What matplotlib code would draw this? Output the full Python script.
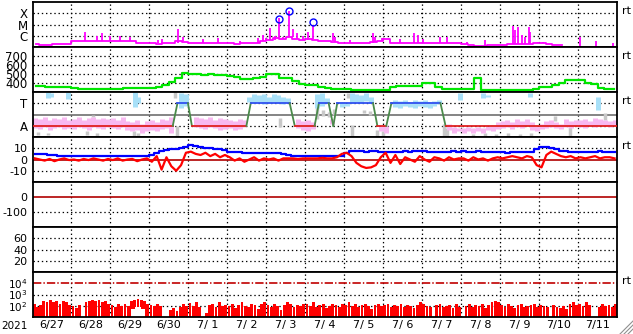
import numpy as np
import matplotlib
matplotlib.use("Agg")
import matplotlib.pyplot as plt

plt.rcParams['font.family'] = 'DejaVu Sans'
plt.rcParams['lines.scale_dashes'] = False

# x axis: days since 2021-06-27 00:00 UT
day_labels = ["6/27", "6/28", "6/29", "6/30", "7/ 1", "7/ 2", "7/ 3", "7/ 4",
              "7/ 5", "7/ 6", "7/ 7", "7/ 8", "7/ 9", "7/10", "7/11"]

# panel 1: x-ray flux (log10 W/m2), 4-hour baseline + flare spikes
xray_base = [
    -6.75, -6.78, -6.80, -6.75, -6.72, -6.70,
    -6.50, -6.45, -6.50, -6.45, -6.50, -6.45,
    -6.45, -6.50, -6.45, -6.50, -6.60, -6.65,
    -6.65, -6.70, -6.68, -6.60, -6.50, -6.55,
    -6.62, -6.65, -6.60, -6.65, -6.62, -6.65,
    -6.65, -6.70, -6.68, -6.65, -6.60, -6.45,
    -6.40, -6.20, -6.30, -6.10, -6.25, -6.35,
    -6.30, -6.35, -6.45, -6.45, -6.55, -6.60,
    -6.60, -6.62, -6.65, -6.60, -6.58, -6.50,
    -6.30, -6.62, -6.65, -6.62, -6.65, -6.60,
    -6.60, -6.62, -6.60, -6.65, -6.62, -6.65,
    -6.75, -6.78, -6.92, -6.95, -6.85, -6.82,
    -6.82, -6.75, -6.70, -6.72, -6.70, -6.65,
    -6.65, -6.72, -6.78, -6.80,
]
spike_day = [1.35, 1.66, 1.79, 1.99, 2.25, 2.50, 3.22, 3.33, 3.74, 3.87,
             4.38, 4.77, 5.33, 5.79, 5.92, 6.00, 6.10, 6.23, 6.32, 6.43,
             6.59, 6.69, 6.79, 6.95, 7.08, 7.21, 7.72, 7.77, 8.16, 8.75,
             8.80, 8.98, 9.44, 9.80, 9.90, 10.03, 10.47, 10.65, 11.16, 11.62,
             12.33, 12.39, 12.47, 12.57, 12.65, 12.73, 12.78, 12.96, 13.11]
spike_log = [-5.69, -5.98, -5.78, -6.02, -5.98, -6.11, -6.38, -6.32, -5.43, -6.11,
             -6.32, -6.23, -6.44, -6.16, -5.93, -6.20, -5.34, -6.02, -4.45, -6.11,
             -3.84, -5.36, -5.78, -6.02, -5.67, -5.04, -5.78, -6.08, -6.38, -5.73,
             -6.08, -6.23, -6.32, -5.78, -5.93, -6.32, -6.14, -6.08, -6.53, -6.38,
             -5.13, -5.49, -5.20, -5.93, -6.08, -5.20, -5.64, -6.53, -6.53]
late_day = [14.06, 14.45, 14.89]
late_log = [-6.08, -6.44, -6.62]
flare_day = [6.32, 6.59, 7.21]
flare_log = [-4.52, -3.78, -4.82]

# panel 2: solar wind speed (km/s), 4-hour values
speed = [
    370, 362, 358, 360, 355, 350,
    340, 335, 330, 335, 332, 335,
    335, 338, 340, 342, 340, 345,
    342, 350, 375, 410, 455, 515,
    500, 495, 490, 495, 490, 485,
    475, 465, 445, 440, 450, 470,
    505, 495, 460, 455, 420, 385,
    378, 375, 350, 340, 335, 330,
    328, 325, 320, 318, 320, 318,
    318, 360, 362, 370, 372, 368,
    397, 395, 352, 335, 330, 330,
    330, 332, 452, 322, 320, 322,
    320, 320, 322, 320, 318, 338,
    350, 352, 380, 395, 430, 433,
    428, 405, 390, 345, 335, 330,
]

# panel 3: sector state (A=1, T=3) and scatter clouds
state_t = [0, 3.60, 3.72, 3.99, 4.09, 5.49, 5.60, 6.60, 6.73, 7.24, 7.35,
           7.60, 7.72, 7.82, 8.74, 8.85, 9.08, 9.21, 10.47, 10.60, 15]
state_v = [1, 1, 3, 3, 1, 1, 3, 3, 1, 1, 3, 3, 1, 3, 3, 1, 1, 3, 3, 1, 1]

pink_lo = [
    0.8, 0.7, 0.9, 0.6, 0.8, 0.9, 0.7, 0.8,
    0.7, 0.9, 0.8, 0.6, 0.9, 0.8, 0.7, 0.9,
    0.8, 0.7, 0.9, 0.6, 0.5, 0.6, 0.4, 0.5,
    0.6, 0.5, 0.7, 0.8, 0.4, np.nan, np.nan, np.nan,
    np.nan, 0.9, 0.8, 0.7, 0.9, 0.8, 0.6, 0.7,
    0.8, 0.6, 0.7, 0.9, np.nan, np.nan, np.nan, np.nan,
    np.nan, np.nan, np.nan, np.nan, np.nan, np.nan, 0.8, 0.6,
    0.5, 0.7, np.nan, np.nan, np.nan, 1.2, np.nan, np.nan,
    np.nan, np.nan, np.nan, np.nan, np.nan, np.nan, np.nan, 0.5,
    0.4, np.nan, np.nan, np.nan, np.nan, np.nan, np.nan, np.nan,
    np.nan, np.nan, np.nan, np.nan, np.nan, 0.6, 0.4, 0.5,
    0.4, 0.5, 0.4, 0.5, 0.4, 0.6, 0.5, 0.7,
    0.8, 0.9, 0.7, 0.9, 0.8, 1.0, 0.6, 0.5,
    0.7, 0.8, 0.9, 0.8, 0.7, 0.9, 0.8, 1.0,
    0.9, 0.8, 1.0, 0.9, 1.1, 1.0, 0.9, 1.1,
]
pink_hi = [
    1.7, 1.6, 1.8, 1.5, 1.7, 1.6, 1.8, 1.5,
    1.6, 1.8, 1.5, 1.7, 1.8, 1.6, 1.7, 1.6,
    1.7, 1.5, 1.8, 1.4, 1.3, 1.5, 1.2, 1.4,
    1.5, 1.3, 1.6, 1.5, 1.8, np.nan, np.nan, np.nan,
    np.nan, 1.8, 1.7, 1.6, 1.8, 1.5, 1.7, 1.6,
    1.5, 1.4, 1.6, 1.5, np.nan, np.nan, np.nan, np.nan,
    np.nan, np.nan, np.nan, np.nan, np.nan, np.nan, 1.6, 1.4,
    1.5, 1.3, np.nan, np.nan, np.nan, 1.6, np.nan, np.nan,
    np.nan, np.nan, np.nan, np.nan, np.nan, np.nan, np.nan, 1.0,
    1.0, np.nan, np.nan, np.nan, np.nan, np.nan, np.nan, np.nan,
    np.nan, np.nan, np.nan, np.nan, np.nan, 1.2, 0.9, 0.8,
    0.8, 0.9, 0.8, 0.9, 0.8, 1.0, 1.1, 1.3,
    1.4, 1.5, 1.3, 1.6, 1.4, 1.6, 1.3, 1.0,
    1.2, 1.4, 1.5, 1.3, 1.2, 1.6, 1.4, 1.5,
    1.5, 1.6, 1.4, 1.7, 1.6, 1.5, 1.4, 1.5,
]
lblue_t = [0.40, 0.47, 0.90, 2.62, 2.72, 3.81, 3.94,
           5.56, 5.69, 5.81, 5.94, 6.06, 6.19, 6.31, 6.44, 6.56,
           7.31, 7.44, 7.56, 7.94, 8.06, 8.19, 8.31, 8.44, 8.56, 8.69,
           9.31, 9.44, 9.56, 9.69, 9.81, 9.94, 10.06, 10.19, 10.31, 10.44,
           10.98, 11.55, 11.70, 12.78, 14.52]
lblue_lo = [3.5, 3.6, 3.4, 2.7, 3.0, 2.6, 2.8,
            3.1, 3.0, 3.1, 2.9, 3.0, 3.1, 3.0, 2.9, 3.1,
            2.6, 2.8, 3.0, 2.7, 2.8, 3.0, 3.1, 3.0, 3.2, 3.0,
            2.7, 2.6, 2.8, 2.7, 2.6, 2.8, 2.7, 2.6, 2.8, 2.9,
            3.3, 3.5, 3.6, 3.6, 2.4]
lblue_hi = [4.0, 3.9, 4.0, 4.0, 3.6, 3.9, 3.8,
            3.6, 3.8, 3.7, 3.8, 3.6, 3.8, 3.7, 3.6, 3.5,
            3.8, 3.9, 3.5, 3.1, 3.0, 3.9, 3.8, 3.7, 3.9, 3.6,
            3.3, 3.2, 3.3, 3.1, 3.3, 3.2, 3.3, 3.1, 3.2, 3.3,
            3.9, 3.9, 3.7, 3.9, 3.6]
gray_t = [0.15, 0.40, 1.40, 1.55, 1.65, 2.60, 2.70, 3.65, 3.70, 6.35,
          7.30, 7.45, 7.60, 7.75, 8.10, 8.20, 8.50, 8.65, 8.85, 9.00,
          10.55, 10.65, 11.30, 11.60, 11.90, 12.20, 12.50, 12.80,
          13.40, 13.80, 14.70]
gray_lo = [0.2, 0.15, 0.2, 1.8, 0.1, 0.05, 0.1, 3.5, 0.1, 0.9,
           1.6, 1.9, 1.8, 2.0, 3.5, 0.0, 2.1, 2.0, 0.0, 0.1,
           0.0, 0.1, 0.0, 0.05, 0.0, 0.0, 0.05, 0.0,
           1.4, 0.0, 1.5]
gray_hi = [0.45, 0.4, 0.5, 2.0, 0.4, 0.5, 0.35, 4.0, 1.0, 1.7,
           2.9, 2.4, 2.2, 2.5, 3.9, 1.1, 2.4, 2.3, 0.6, 0.5,
           1.2, 0.8, 0.3, 0.35, 0.3, 0.4, 0.3, 0.35,
           1.9, 0.9, 2.1]

# panel 4: IMF Bt and Bz (nT), 3-hour values
bt = [
    5.0, 4.8, 4.5, 4.0, 3.8, 3.5, 3.3, 3.2,
    3.0, 3.0, 3.2, 3.0, 2.8, 3.0, 3.2, 3.0,
    3.0, 2.8, 3.0, 3.2, 3.0, 3.0, 3.3, 3.5,
    4.0, 6.0, 8.0, 8.5, 9.0, 9.5, 10.0, 11.0,
    12.5, 12.0, 11.0, 10.0, 10.0, 9.5, 9.0, 8.5,
    7.0, 6.5, 6.5, 6.0, 6.0, 6.2, 6.0, 6.0,
    6.0, 6.0, 5.5, 4.5, 4.0, 3.5, 3.2, 3.0,
    3.0, 3.0, 3.0, 3.0, 2.8, 3.0, 3.0, 3.5,
    6.0, 7.5, 8.0, 7.5, 7.0, 7.5, 8.0, 7.0,
    7.0, 7.0, 6.5, 7.0, 7.5, 7.0, 7.5, 7.5,
    7.5, 7.0, 6.5, 7.0, 7.0, 7.0, 7.5, 7.0,
    7.5, 7.0, 7.0, 7.5, 7.0, 6.5, 7.0, 7.0,
    6.5, 6.0, 6.5, 7.0, 6.5, 7.0, 6.5, 9.0,
    11.0, 11.5, 10.0, 9.0, 8.0, 7.5, 7.0, 7.0,
    7.0, 6.5, 7.0, 7.0, 7.5, 7.0, 6.5, 7.0,
]
bz = [
    1.0, 0.0, -1.0, 0.5, -1.5, 0.0, 1.0, -0.5,
    0.0, -1.0, 0.5, -0.5, 1.0, 0.0, -1.0, 0.5,
    -0.5, 1.0, -1.0, 0.0, 0.5, -1.5, 0.0, 1.0,
    -2.0, 3.0, -9.0, 2.0, -6.0, -10.0, -5.0, 6.0,
    7.0, 5.0, 4.0, 6.0, 3.0, 5.0, 2.0, 4.0,
    2.0, -1.0, 1.0, -2.0, 0.0, 2.0, -1.0, 1.0,
    0.0, 1.0, -1.0, 1.0, 1.0, 1.0, 0.5, 1.0,
    1.0, 1.0, 1.0, 1.5, 1.0, 1.0, 2.0, 5.0,
    6.0, 3.0, -3.0, -6.0, -7.5, -7.0, -5.0, 2.0,
    6.0, -3.0, 4.0, -4.0, 2.0, 0.0, -2.0, 3.0,
    0.0, -2.0, 2.0, 1.0, -1.0, 2.0, 0.0, 1.0,
    1.0, -1.0, 2.0, 0.0, 1.0, -1.0, 1.0, 2.0,
    1.0, 2.0, 3.0, 2.0, 1.0, 3.0, 2.0, -5.0,
    -7.0, 4.0, 7.0, 5.0, 3.0, 2.0, 3.0, 1.0,
    2.0, 1.0, 2.0, 3.0, 1.0, 2.0, 2.0, 1.0,
]

# panel 7: electron flux (log10), 2-hour values
eflux = [
    2.2, 1.9, 2.1, 2.4, 2.3, 2.5, 2.35, 2.45, 2.2, 2.4, 2.3, 2.1,
    2.0, 1.8, 2.1, 1.0, 2.3, 2.45, 2.5, 2.4, 2.55, 2.3, 2.45, 2.2,
    2.1, 1.9, 2.2, 2.0, 2.15, 1.95, 2.4, 2.55, 2.6, 2.5, 2.45, 2.2,
    2.1, 1.95, 2.2, 2.0, 1.0, 1.0, 1.6, 1.8, 1.5, 1.9, 2.2, 2.0,
    2.25, 2.0, 2.3, 1.9, 1.0, 1.4, 2.1, 2.2, 1.9, 2.3, 2.0, 2.1,
    2.0, 2.2, 1.8, 2.1, 2.3, 2.0, 1.9, 2.2, 2.1, 1.7, 2.2, 2.3,
    2.1, 1.9, 2.2, 2.0, 1.6, 2.1, 2.3, 2.2, 1.9, 2.1, 2.0, 2.2,
    2.2, 2.0, 2.3, 1.9, 2.1, 2.2, 1.8, 2.0, 2.2, 2.1, 1.9, 2.2,
    2.1, 2.3, 2.0, 2.2, 1.9, 2.1, 2.2, 2.0, 1.7, 2.1, 2.2, 2.0,
    2.1, 2.2, 1.9, 2.1, 2.0, 2.2, 1.9, 2.1, 2.0, 1.8, 2.1, 2.3,
    2.2, 2.0, 1.9, 1.0, 2.1, 2.2, 1.9, 2.0, 2.1, 1.8, 2.2, 1.9,
    1.0, 2.0, 2.2, 1.9, 2.1, 2.0, 2.2, 1.8, 2.1, 2.3, 2.4, 2.3,
    2.1, 1.9, 2.2, 2.0, 1.8, 2.1, 2.2, 1.9, 2.0, 2.1, 2.2, 1.9,
    2.1, 2.0, 1.9, 1.0, 2.1, 1.9, 1.8, 2.0, 1.7, 2.2, 2.3, 2.1,
    2.2, 2.0, 2.3, 2.1, 1.0, 1.0, 1.9, 2.2, 2.0, 2.1, 1.9, 2.2,
]
arch_t = [2.58, 2.67, 2.75, 2.83]
arch_top = [1.75, 1.85, 1.85, 1.7]

# ---- layout ----
fig = plt.figure(figsize=(6.33, 3.34), dpi=100)
L, W = 32.5 / 633, 584.5 / 633
tops = [2, 47, 92, 137, 182, 227, 272]
H = 45
dot = (0, (1.0, 2.0))
FS = 8
axes = []
for top in tops:
    ax = fig.add_axes([L, 1 - (top + H) / 334, W, H / 334])
    ax.set_xlim(0, 15)
    for s in ax.spines.values():
        s.set_linewidth(1.3)
        s.set_color('black')
    for d in range(1, 15):
        ax.axvline(d, color='black', ls=dot, lw=0.9, zorder=0.5)
    ax.set_xticks([])
    ax.tick_params(axis='y', length=0, pad=3.5, labelsize=FS)
    axes.append(ax)

ax1, ax2, ax3, ax4, ax5, ax6, ax7 = axes

# panel 1
t_x = np.arange(len(xray_base)) / 6 + 1 / 12
ax1.set_ylim(-7, -3)
for v in [-4, -5, -6]:
    ax1.axhline(v, color='black', ls=dot, lw=0.9, zorder=0.5)
ax1.set_yticks([-4, -5, -6])
ax1.set_yticklabels(['X', 'M', 'C'], fontsize=8.5)
ax1.plot(t_x, xray_base, color='#ff00ff', lw=1.3, drawstyle='steps-mid')
idx = np.clip(np.searchsorted(t_x, spike_day) - 1, 0, len(t_x) - 1)
ax1.vlines(spike_day, np.array(xray_base)[idx], spike_log, color='#ff00ff', lw=1.3)
ax1.vlines(late_day, -7, late_log, color='#ff00ff', lw=1.3)
ax1.plot(flare_day, flare_log, 'o', ms=5, mfc='none', mec='#0000ff', mew=1)

# panel 2
t_s = np.arange(len(speed)) / 6 + 1 / 12
ax2.set_ylim(300, 800)
for v in [400, 500, 600, 700]:
    ax2.axhline(v, color='black', ls=dot, lw=0.9, zorder=0.5)
ax2.set_yticks([700, 600, 500, 400])
ax2.set_yticklabels(['700', '600', '500', '400'], fontsize=8.5)
ax2.plot(t_s, speed, color='#00e600', lw=1.6, drawstyle='steps-mid')

# panel 3
t_p = np.arange(len(pink_lo)) / 8 + 1 / 16
ax3.set_ylim(0, 4)
for v in [1, 3]:
    ax3.axhline(v, color='black', ls=dot, lw=0.9, zorder=0.5)
ax3.axhline(2, color='#707070', lw=1.2, zorder=1)
ax3.vlines(gray_t, gray_lo, gray_hi, color='#c8c8c8', lw=2.5, zorder=1.5)
ax3.vlines(t_p, pink_lo, pink_hi, color='#f8b8f0', lw=3.6, zorder=1.6)
ax3.vlines(lblue_t, lblue_lo, lblue_hi, color='#a8e0f8', lw=3.6, zorder=1.6)
for i in range(len(state_t) - 1):
    a, b = state_v[i], state_v[i + 1]
    c = '#e02020' if a == b == 1 else ('#3050f0' if a == b else '#4a8a4a')
    ax3.plot(state_t[i:i + 2], state_v[i:i + 2], color=c, lw=1.3, zorder=3)
ax3.set_yticks([3, 1])
ax3.set_yticklabels(['T', 'A'], fontsize=8.5)

# panel 4
t_b = np.arange(len(bt)) / 8 + 1 / 16
ax4.set_ylim(-20, 20)
for v in [10, -10]:
    ax4.axhline(v, color='black', ls=dot, lw=0.9, zorder=0.5)
ax4.axhline(0, color='#b00000', lw=1.2, zorder=1)
ax4.plot(t_b, bt, color='#0000ff', lw=1.6, drawstyle='steps-mid', zorder=2)
ax4.plot(t_b, bz, color='#ff0000', lw=1.6, zorder=3)
ax4.set_yticks([10, 0, -10])
ax4.set_yticklabels(['10', '0', '-10'])

# panel 5
ax5.set_ylim(-200, 100)
ax5.axhline(0, color='#b00000', lw=1.2)
ax5.axhline(-100, color='black', ls=dot, lw=0.9, zorder=0.5)
ax5.set_yticks([0, -100])
ax5.set_yticklabels(['0', '-100'])

# panel 6
ax6.set_ylim(0, 80)
for v in [20, 40, 60]:
    ax6.axhline(v, color='black', ls=dot, lw=0.9, zorder=0.5)
ax6.set_yticks([60, 40, 20])
ax6.set_yticklabels(['60', '40', '20'])

# panel 7
t_e = np.arange(len(eflux)) / 12 + 1 / 24
ax7.set_ylim(1, 5)
for v in [2, 3]:
    ax7.axhline(v, color='black', ls=dot, lw=0.9, zorder=0.5)
ax7.axhline(4, color='#c00000', lw=1.2, ls=(0, (6, 1.5, 1, 1.5)))
ax7.bar(t_e, np.array(eflux) - 1, bottom=1, width=1 / 12 * 0.85, color='#ff0000', zorder=2)
ax7.bar(arch_t, np.array(arch_top) - 1, bottom=1, width=0.09, color='white', zorder=2.1)
ax7.set_yticks([4, 3, 2])
ax7.set_yticklabels(['$10^4$', '$10^3$', '$10^2$'], fontsize=7.5)
ax7.set_xticks(np.arange(15) + 0.5)
ax7.set_xticklabels(day_labels)
ax7.tick_params(axis='x', length=0, pad=2.5, labelsize=FS)

for ax in [ax1, ax2, ax3, ax4, ax7]:
    ax.text(1.008, 0.8, 'rt', transform=ax.transAxes, fontsize=FS, va='center', ha='left')

fig.text(28 / 633, 1 - 326 / 334, '2021', fontsize=7.5, ha='right', va='center')

# resize grip in the corner
for k in range(3):
    o = 4 * k
    fig.add_artist(plt.Line2D([(620 + o) / 633, 633 / 633], [0, (13 - o) / 334],
                              color='#909090', lw=0.8, transform=fig.transFigure))

fig.savefig('out.png', dpi=100)
